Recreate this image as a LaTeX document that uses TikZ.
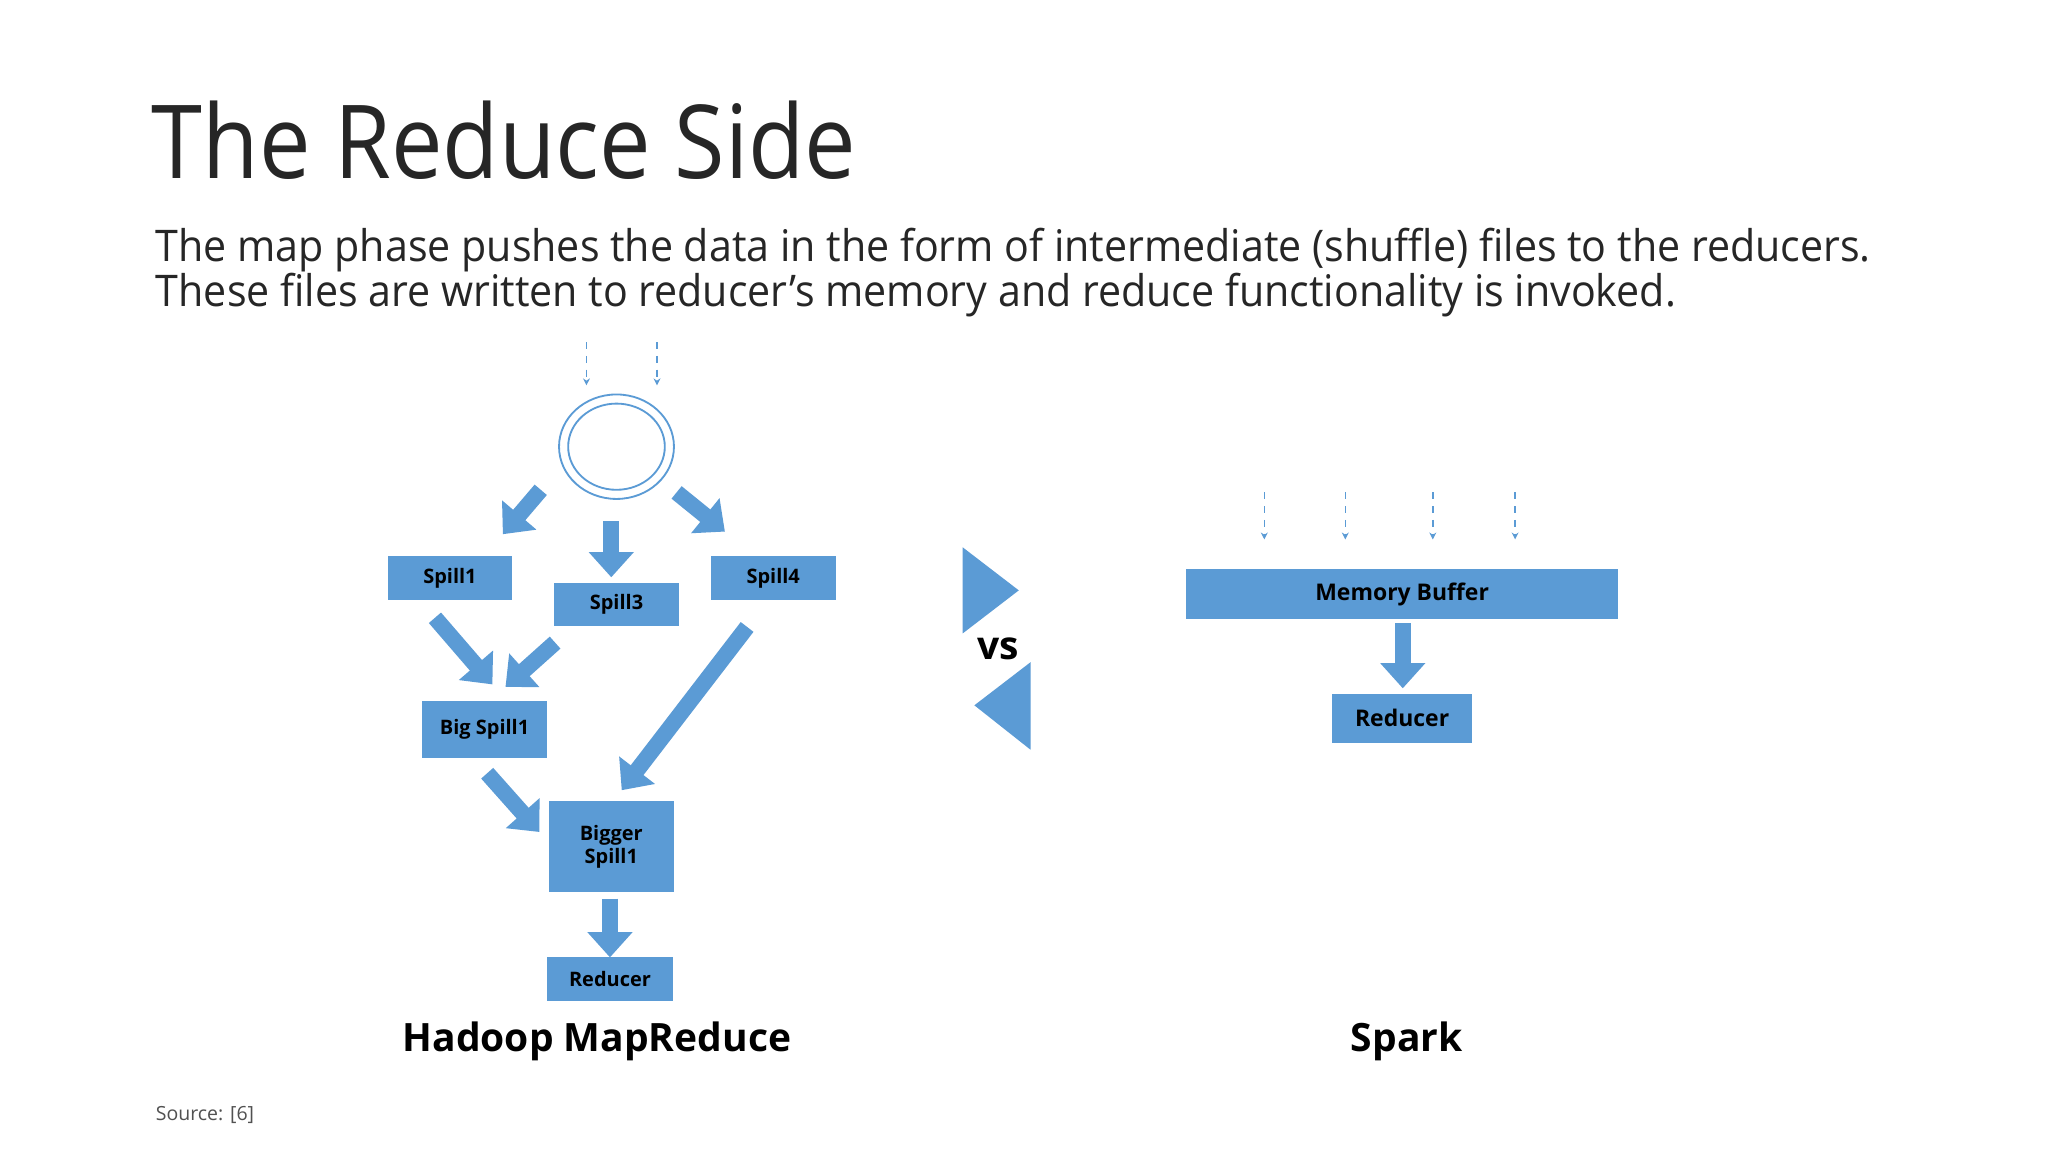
\documentclass[tikz,border=0pt]{standalone}
\usepackage{fontspec}
\setmainfont{Open Sans}
\newfontfamily\titlef[FakeStretch=0.9]{Open Sans}
\newfontfamily\bodyf[FakeStretch=0.944]{Open Sans}
\usetikzlibrary{arrows.meta}
\definecolor{bl}{HTML}{5B9BD5}
\definecolor{tx}{HTML}{262626}
\tikzset{
 box/.style={fill=bl,draw=none,text=black,font=\bfseries\fontsize{8.7}{10}\selectfont,align=center,inner sep=0},
 fat/.style={draw=bl,line width=7pt,-{Triangle[width=19pt,length=11pt]}},
 dsh/.style={draw=bl,dashed,line width=0.6pt,-{Stealth[length=3pt,width=3pt]}},
}
\begin{document}
\begin{tikzpicture}[x=0.02cm,y=-0.02cm]
\useasboundingbox (0,0) rectangle (1568,882);
\fill[white] (0,0) rectangle (1568,882);
\node[anchor=base west,inner sep=0,text=tx,font=\titlef\fontsize{44.5}{50}\selectfont] (title) at (116,137) {The Reduce Side};
\node[anchor=base west,inner sep=0,text=tx,font=\bodyf\fontsize{19}{20}\selectfont] (l1) at (119,200) {The map phase pushes the data in the form of intermediate (shuffle) files to the reducers.};
\node[anchor=base west,inner sep=0,text=tx,font=\bodyf\fontsize{19}{20}\selectfont] (l2) at (119,235) {These files are written to reducer’s memory and reduce functionality is invoked.};
\node[anchor=base west,inner sep=0,text=tx!80,font=\fontsize{8.5}{10}\selectfont] (src) at (119,858) {Source: [6]};
% Hadoop
\coordinate (d1a) at (449,262); \coordinate (d1b) at (449,295);
\coordinate (d2a) at (503,262); \coordinate (d2b) at (503,295);
\draw[dsh] (d1a) -- (d1b); \draw[dsh] (d2a) -- (d2b);
\draw[bl,line width=0.8pt] (472,342) ellipse (44 and 40);
\draw[bl,line width=0.8pt] (472,342) ellipse (37 and 33);
\draw[fat] (414,375) -- (385,409);
\draw[fat] (468,399) -- (468,442);
\draw[fat] (518,377) -- (555,407);
\node[box,minimum width=95*0.02cm,minimum height=33*0.02cm] (s1) at (344.5,442.5) {Spill1};
\node[box,minimum width=96*0.02cm,minimum height=33*0.02cm] (s3) at (472,462.5) {Spill3};
\node[box,minimum width=96*0.02cm,minimum height=33*0.02cm] (s4) at (592,442.5) {Spill4};
\draw[fat] (333,473) -- (377,524);
\draw[fat] (425,492) -- (387,526);
\draw[fat] (572,480) -- (476,605);
\node[box,minimum width=96*0.02cm,minimum height=43*0.02cm] (bs) at (371,558.5) {Big Spill1};
\draw[fat] (373,592) -- (413,637);
\node[box,minimum width=96*0.02cm,minimum height=70*0.02cm] (bgs) at (468,648) {Bigger\\Spill1};
\draw[fat] (467,688) -- (467,733);
\node[box,minimum width=96*0.02cm,minimum height=33*0.02cm] (r1) at (467,749.5) {Reducer};
\node[font=\bfseries\fontsize{17}{20}\selectfont,inner sep=0] (hl) at (457,797) {Hadoop MapReduce};
% vs
\fill[bl] (737,419) -- (737,485) -- (780,452) -- cycle;
\fill[bl] (789,507) -- (789,574) -- (746,540) -- cycle;
\node[font=\bfseries\fontsize{17}{20}\selectfont,inner sep=0] (vs) at (764,497) {vs};
% Spark
\foreach \x [count=\i] in {968,1030,1097,1160}{
 \coordinate (sa\i) at (\x,377); \coordinate (sb\i) at (\x,413);
 \draw[dsh] (sa\i) -- (sb\i);}
\node[box,font=\bfseries\fontsize{10}{12}\selectfont,minimum width=331*0.02cm,minimum height=38*0.02cm] (mb) at (1073.5,455) {Memory Buffer};
\draw[fat] (1074,477) -- (1074,527);
\node[box,font=\bfseries\fontsize{10}{12}\selectfont,minimum width=107*0.02cm,minimum height=38*0.02cm] (r2) at (1073.5,550) {Reducer};
\node[font=\bfseries\fontsize{17}{20}\selectfont,inner sep=0] (sl) at (1077,797) {Spark};
\end{tikzpicture}
\end{document}
